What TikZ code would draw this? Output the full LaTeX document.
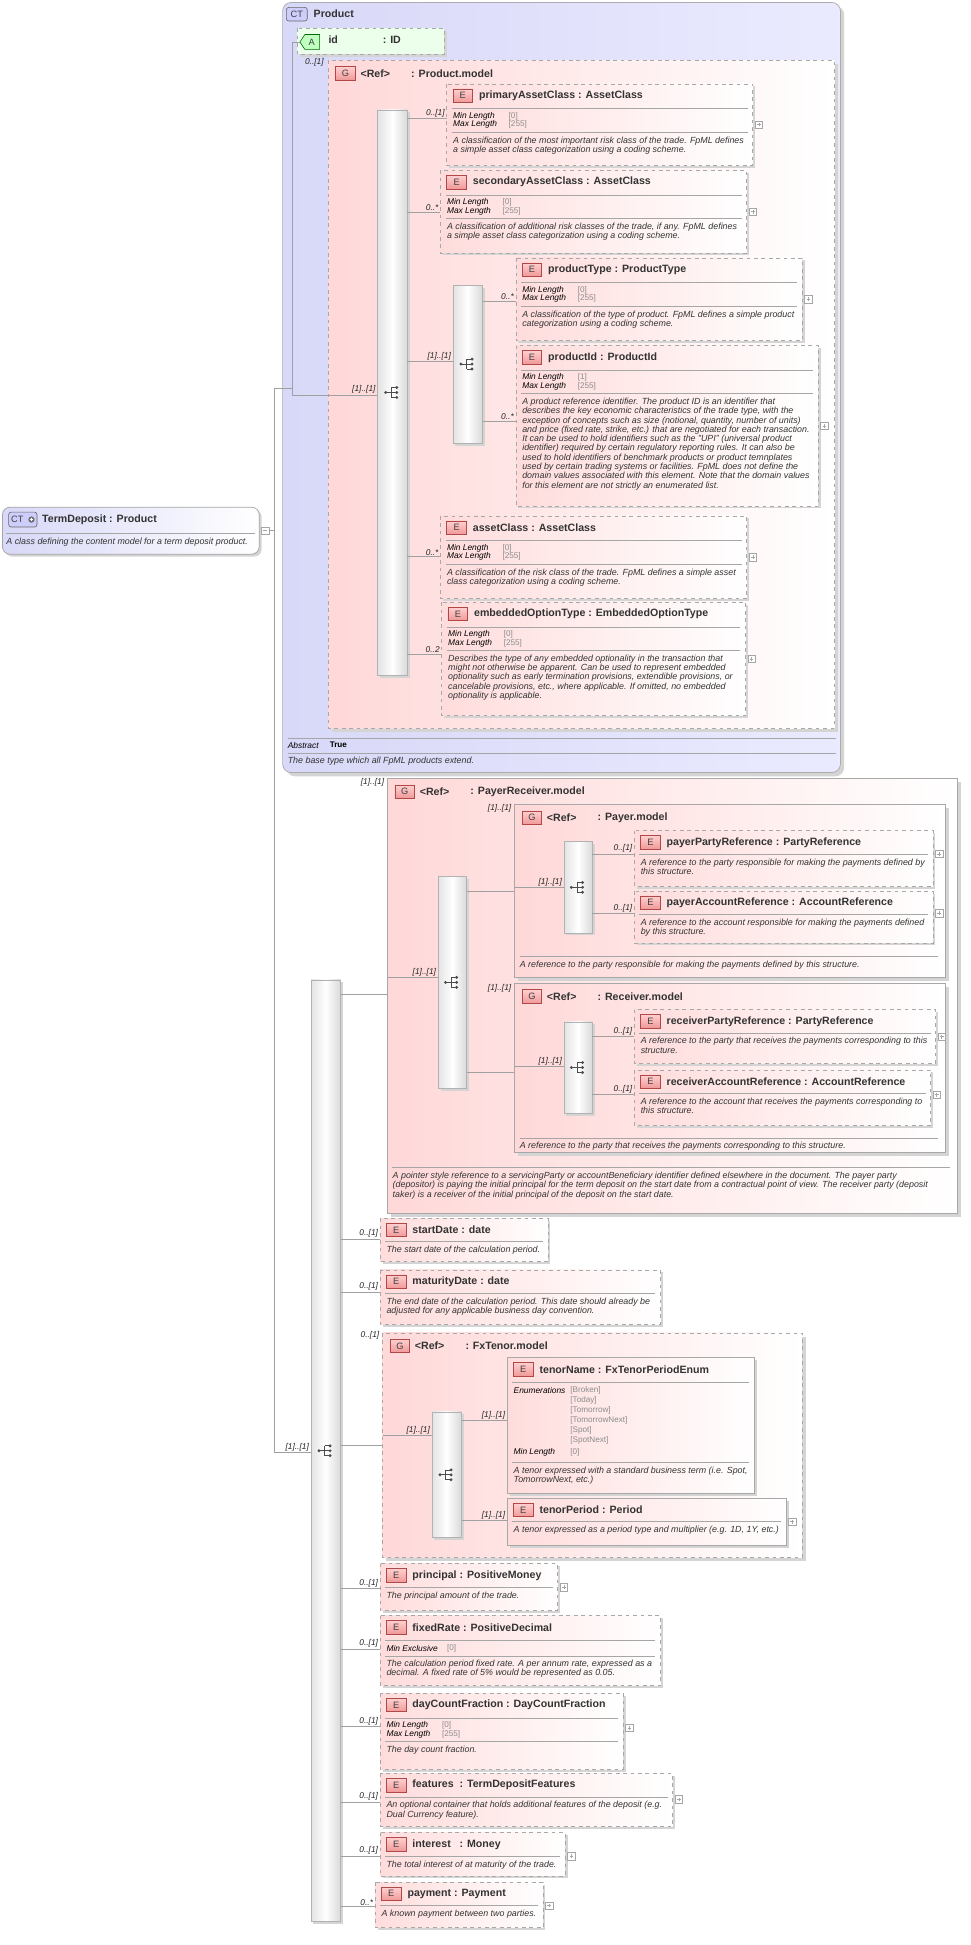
\documentclass[tikz,border=0pt]{standalone}
\usetikzlibrary{calc}
\usepackage{fontspec}
\setmainfont{Liberation Sans}
\definecolor{epink}{HTML}{FFDCDC}
\definecolor{gpink}{HTML}{FFD8D8}
\definecolor{ctblue}{HTML}{D8D8F8}
\definecolor{bordc}{HTML}{A8A8A8}
\definecolor{linec}{HTML}{A0A0A0}
\definecolor{badgeA}{HTML}{FFD0D0}
\definecolor{badgeB}{HTML}{F09898}
\definecolor{badgeD}{HTML}{B04848}
\definecolor{shadc}{HTML}{D4D4D4}
\newcommand\badge[3]{\draw[draw=badgeD,top color=badgeA,bottom color=badgeB,line width=0.5pt] (#1,#2) rectangle ++(16,11);
 \node[inner sep=0,font=\fontsize{7.5}{7.5}\selectfont,text=black!75] at ($(#1,#2)+(8,5.5)$) {#3};}
\newcommand\Eb[6]{\fill[shadc] (#2+2,#3+2) rectangle ++(#4,#5);
 \shade[left color=epink,right color=white] (#2,#3) rectangle ++(#4,#5);
 \draw[bordc,line width=0.6pt,#1] (#2,#3) rectangle ++(#4,#5);
 \badge{#2+5}{#3+4}{E}
 \node[ttl] at (#2+26,#3+9.5) {#6};}
\newcommand\plusb[2]{\draw[gray!70,fill=white,line width=0.4pt] (#1,#2-3) rectangle ++(6,6);
 \draw[gray!70,line width=0.4pt] (#1+1.5,#2)--++(3,0) (#1+3,#2-1.5)--++(0,3);}
\newcommand\Emm[8]{\Eb{dashed}{#1}{#2}{#3}{#4}{#5}
 \draw[sepc] (#1+4,#2+20) -- (#1+#3-4,#2+20);
 \node[kl] at (#1+5,#2+26) {Min Length}; \node[kv] at (#1+50,#2+26) {[#6]};
 \node[kl] at (#1+5,#2+33) {Max Length}; \node[kv] at (#1+50,#2+33) {[#7]};
 \draw[sepc] (#1+4,#2+39)--(#1+#3-4,#2+39);
 \node[dsc] at (#1+5,#2+42.5) {#8};
 \plusb{#1+#3+2}{#2+#4/2}}
\newcommand\Ed[7]{\Eb{#1}{#2}{#3}{#4}{#5}{#6}
 \draw[sepc] (#2+4,#3+19) -- (#2+#4-4,#3+19);
 \node[dsc] at (#2+5,#3+22.5) {#7};}
\newcommand\Sq[4]{\fill[shadc] (#1+2,#2+2) rectangle ++(#3,#4);
 \shade[left color=gray!22,right color=gray!30,middle color=white] (#1,#2) rectangle ++(#3,#4);
 \draw[gray!60,line width=0.5pt] (#1,#2) rectangle ++(#3,#4);
 \begin{scope}[shift={(#1+#3/2,#2+#4/2)}]
 \fill[black!70] (-5.5,0) circle (1.3);
 \draw[black!70,line width=0.6pt] (-5.5,0)--(-1,0) (-1,-4)--(-1,4) (-1,-4)--(3,-4) (-1,4)--(3,4) (-1,0)--(3,0);
 \fill[black!70] (3.5,-4) circle (1.3) (3.5,0) circle (1.3) (3.5,4) circle (1.3);
 \end{scope}}
\newcommand\Gb[6]{\fill[shadc] (#2+3,#3+3) rectangle ++(#4,#5);
 \shade[left color=gpink,right color=white] (#2,#3) rectangle ++(#4,#5);
 \draw[bordc,line width=0.6pt,#1] (#2,#3) rectangle ++(#4,#5);
 \badge{#2+6}{#3+5}{G}
 \node[ttl] at (#2+26,#3+10.5) {<Ref>};
 \node[ttl] at (#2+67,#3+10.5) {: #6};}
\newcommand\conn[4]{\draw[cl] (#1,#3)--(#2,#3); \node[lbl] at (#2-1,#3-0.5) {#4};}
\begin{document}
\begin{tikzpicture}[x=1pt,y=-1pt,
 ttl/.style={anchor=west,inner sep=0,font=\fontsize{8.6}{9}\selectfont\bfseries,text=black!80},
 dsc/.style={anchor=north west,inner sep=0,align=left,font=\fontsize{7.2}{7.5}\selectfont\itshape,text=black!80},
 kl/.style={anchor=west,inner sep=0,font=\fontsize{6.8}{7}\selectfont\itshape,text=black},
 kv/.style={anchor=west,inner sep=0,font=\fontsize{6.6}{7}\selectfont,text=black!45},
 lbl/.style={anchor=south east,inner sep=0.5,font=\fontsize{6.8}{7}\selectfont\itshape,text=black!85},
 cl/.style={draw=linec,line width=0.5pt},
 sepc/.style={draw=black!35,line width=0.5pt}]
\useasboundingbox (0,0) rectangle (786,1576);
\fill[white] (0,0) rectangle (786,1576);
% ---------- TermDeposit
\fill[shadc,rounded corners=6] (4,413) rectangle (212,451);
\shade[left color=ctblue,right color=white,rounded corners=6] (2,411) rectangle (210,449);
\draw[gray!70,rounded corners=6,line width=0.6pt] (2,411) rectangle (210,449);
\draw[draw=black!60,fill=ctblue!80!blue!60,rounded corners=2,line width=0.5pt] (7,415) rectangle (30,427);
\node[inner sep=0,font=\fontsize{7.5}{7.5}\selectfont,text=black!75] (ctb) at (14,421) {CT};
\fill[black!55] (25.5,421) circle (2.6);
\draw[white,line width=0.6pt] (24,421)--(27,421) (25.5,419.5)--(25.5,422.5);
\node[ttl] (td) at (34,421) {TermDeposit : Product};
\draw[sepc] (5,432)--(207,432);
\node[dsc] at (5,435.5) {A class defining the content model for a term deposit product.};
\draw[gray!70,fill=white,line width=0.4pt] (212,427) rectangle ++(6,6);
\draw[gray!70,line width=0.4pt] (213.5,430)--++(3,0);
\draw[cl] (218,430)--(222,430);
\draw[cl] (222,315)--(222,1177)--(252,1177);
\node[lbl] at (251,1176.5) {[1]..[1]};
% ---------- Product CT
\fill[shadc,rounded corners=7] (232,5) rectangle (684,629);
\shade[left color=ctblue,right color=white!92!blue,rounded corners=7] (229,2) rectangle (681,626);
\draw[gray!65,rounded corners=7,line width=0.6pt] (229,2) rectangle (681,626);
\draw[draw=black!60,fill=ctblue!80!blue!60,rounded corners=2,line width=0.5pt] (232,6) rectangle (249,17);
\node[inner sep=0,font=\fontsize{7.5}{7.5}\selectfont,text=black!75] at (240.5,11.5) {CT};
\node[ttl] (prod) at (254,11.5) {Product};
% id attribute
\fill[shadc] (243,25) rectangle (362,46);
\fill[green!8] (241,23) rectangle (360,44);
\draw[bordc,dashed,line width=0.6pt] (241,23) rectangle (360,44);
\draw[draw=green!40!black,fill=green!25,line width=0.5pt] (247,28)--(259,28)--(259,40)--(247,40)--(243,34)--cycle;
\node[inner sep=0,font=\fontsize{7.5}{7.5}\selectfont,text=black!75] at (252.5,34) {A};
\node[ttl] at (266,32) {id};
\node[ttl] at (310,32) {: ID};
\draw[cl] (237,34)--(243,34) (237,34)--(237,320) (222,315)--(237,315);
\node[lbl] at (263,54) {0..[1]};
% Product.model group
\Gb{dashed}{266}{49}{410}{541}{Product.model}
\draw[cl] (237,320)--(306,320); \node[lbl] at (305,319.5) {[1]..[1]};
\Sq{306}{89}{24}{458}
\conn{330}{362}{96}{0..[1]}
\Emm{362}{68}{248}{66}{primaryAssetClass : AssetClass}{0}{255}{A classification of the most important risk class of the trade. FpML defines\\a simple asset class categorization using a coding scheme.}
\conn{330}{357}{172}{0..*}
\Emm{357}{138}{248}{67}{secondaryAssetClass : AssetClass}{0}{255}{A classification of additional risk classes of the trade, if any. FpML defines\\a simple asset class categorization using a coding scheme.}
\conn{330}{367}{293}{[1]..[1]}
\Sq{367}{231}{24}{128}
\conn{391}{418}{244}{0..*}
\Emm{418}{209}{232}{67}{productType : ProductType}{0}{255}{A classification of the type of product. FpML defines a simple product\\categorization using a coding scheme.}
\conn{391}{418}{341}{0..*}
\Emm{418}{280}{245}{130}{productId : ProductId}{1}{255}{A product reference identifier. The product ID is an identifier that\\describes the key economic characteristics of the trade type, with the\\exception of concepts such as size (notional, quantity, number of units)\\and price (fixed rate, strike, etc.) that are negotiated for each transaction.\\It can be used to hold identifiers such as the "UPI" (universal product\\identifier) required by certain regulatory reporting rules. It can also be\\used to hold identifiers of benchmark products or product temnplates\\used by certain trading systems or facilities. FpML does not define the\\domain values associated with this element. Note that the domain values\\for this element are not strictly an enumerated list.}
\conn{330}{357}{451}{0..*}
\Emm{357}{418}{248}{67}{assetClass : AssetClass}{0}{255}{A classification of the risk class of the trade. FpML defines a simple asset\\class categorization using a coding scheme.}
\conn{330}{358}{530}{0..2}
\Emm{358}{488}{246}{92}{embeddedOptionType : EmbeddedOptionType}{0}{255}{Describes the type of any embedded optionality in the transaction that\\might not otherwise be apparent. Can be used to represent embedded\\optionality such as early termination provisions, extendible provisions, or\\cancelable provisions, etc., where applicable. If omitted, no embedded\\optionality is applicable.}
\draw[sepc] (233,598)--(677,598);
\node[kl] at (233,604) {Abstract};
\node[anchor=west,inner sep=0,font=\fontsize{6.6}{7}\selectfont\bfseries] at (267,603.5) {True};
\draw[sepc] (233,610)--(677,610);
\node[dsc] at (233,613) {The base type which all FpML products extend.};
% ---------- main sequence
\Sq{252}{794}{24}{763}
% PayerReceiver.model
\conn{276}{314}{806}{}
\node[lbl] at (312,638) {[1]..[1]};
\Gb{}{314}{631}{462}{352}{PayerReceiver.model}
\conn{314}{355}{792}{[1]..[1]}
\Sq{355}{710}{23}{172}
% Payer.model
\draw[cl] (378,722)--(417,722); \node[lbl] at (415,659) {[1]..[1]};
\Gb{}{417}{652}{349}{140}{Payer.model}
\conn{417}{457}{719}{[1]..[1]}
\Sq{457}{682}{23}{74}
\conn{480}{514}{692}{0..[1]}
\Ed{dashed}{514}{673}{242}{45}{payerPartyReference : PartyReference}{A reference to the party responsible for making the payments defined by\\this structure.}
\plusb{758}{692}
\conn{480}{514}{740}{0..[1]}
\Ed{dashed}{514}{722}{242}{42}{payerAccountReference : AccountReference}{A reference to the account responsible for making the payments defined\\by this structure.}
\plusb{758}{740}
\draw[sepc] (421,775)--(760,775);
\node[dsc] at (421,778.5) {A reference to the party responsible for making the payments defined by this structure.};
% Receiver.model
\draw[cl] (378,869)--(417,869); \node[lbl] at (415,805) {[1]..[1]};
\Gb{}{417}{797}{349}{137}{Receiver.model}
\conn{417}{457}{864}{[1]..[1]}
\Sq{457}{828}{23}{74}
\conn{480}{514}{840}{0..[1]}
\Ed{dashed}{514}{818}{244}{44}{receiverPartyReference : PartyReference}{A reference to the party that receives the payments corresponding to this\\structure.}
\plusb{760}{840}
\conn{480}{514}{887}{0..[1]}
\Ed{dashed}{514}{867}{240}{45}{receiverAccountReference : AccountReference}{A reference to the account that receives the payments corresponding to\\this structure.}
\plusb{756}{887}
\draw[sepc] (421,922)--(760,922);
\node[dsc] at (421,925.5) {A reference to the party that receives the payments corresponding to this structure.};
\draw[sepc] (318,946)--(770,946);
\node[dsc] at (318,949.5) {A pointer style reference to a servicingParty or accountBeneficiary identifier defined elsewhere in the document. The payer party\\(depositor) is paying the initial principal for the term deposit on the start date from a contractual point of view. The receiver party (deposit\\taker) is a receiver of the initial principal of the deposit on the start date.};
% startDate, maturityDate
\conn{276}{308}{1004}{0..[1]}
\Ed{dashed}{308}{987}{136}{35}{startDate : date}{The start date of the calculation period.}
\conn{276}{308}{1047}{0..[1]}
\Ed{dashed}{308}{1029}{227}{44}{maturityDate : date}{The end date of the calculation period. This date should already be\\adjusted for any applicable business day convention.}
% FxTenor.model
\conn{276}{310}{1171}{}
\node[lbl] at (308,1086) {0..[1]};
\Gb{dashed}{310}{1080}{340}{182}{FxTenor.model}
\conn{310}{350}{1163}{[1]..[1]}
\Sq{350}{1144}{24}{102}
\conn{374}{411}{1151}{[1]..[1]}
\Eb{}{411}{1100}{200}{110}{tenorName : FxTenorPeriodEnum}
\draw[sepc] (415,1120)--(607,1120);
\node[kl] at (416,1127) {Enumerations};
\foreach \v [count=\i from 0] in {Broken,Today,Tomorrow,TomorrowNext,Spot,SpotNext}
  \node[kv] at (462,1127+8*\i) {[\v]};
\node[kl] at (416,1177) {Min Length}; \node[kv] at (462,1177) {[0]};
\draw[sepc] (415,1185)--(607,1185);
\node[dsc] at (416,1188.5) {A tenor expressed with a standard business term (i.e. Spot,\\TomorrowNext, etc.)};
\conn{374}{411}{1232}{[1]..[1]}
\Ed{}{411}{1214}{226}{38}{tenorPeriod : Period}{A tenor expressed as a period type and multiplier (e.g. 1D, 1Y, etc.)}
\plusb{639}{1233}
% remaining elements
\conn{276}{308}{1287}{0..[1]}
\Ed{dashed}{308}{1267}{144}{38}{principal : PositiveMoney}{The principal amount of the trade.}
\plusb{454}{1286}
\conn{276}{308}{1336}{0..[1]}
\Eb{dashed}{308}{1309}{227}{57}{fixedRate : PositiveDecimal}
\draw[sepc] (312,1329)--(531,1329);
\node[kl] at (313,1335.5) {Min Exclusive}; \node[kv] at (362,1335.5) {[0]};
\draw[sepc] (312,1342)--(531,1342);
\node[dsc] at (313,1345) {The calculation period fixed rate. A per annum rate, expressed as a\\decimal. A fixed rate of 5\% would be represented as 0.05.};
\conn{276}{308}{1399}{0..[1]}
\Eb{dashed}{308}{1372}{197}{62}{dayCountFraction : DayCountFraction}
\draw[sepc] (312,1392)--(501,1392);
\node[kl] at (313,1398) {Min Length}; \node[kv] at (358,1398) {[0]};
\node[kl] at (313,1405) {Max Length}; \node[kv] at (358,1405) {[255]};
\draw[sepc] (312,1411)--(501,1411);
\node[dsc] at (313,1414.5) {The day count fraction.};
\plusb{507}{1400}
\conn{276}{308}{1460}{0..[1]}
\Ed{dashed}{308}{1437}{237}{43}{features\ \ : TermDepositFeatures}{An optional container that holds additional features of the deposit (e.g.\\Dual Currency feature).}
\plusb{547}{1458}
\conn{276}{308}{1504}{0..[1]}
\Ed{dashed}{308}{1485}{150}{35}{interest\ \ \ : Money}{The total interest of at maturity of the trade.}
\plusb{460}{1504}
\conn{276}{304}{1545}{0..*}
\Ed{dashed}{304}{1525}{136}{37}{payment : Payment}{A known payment between two parties.}
\plusb{442}{1544}
\end{tikzpicture}
\end{document}
